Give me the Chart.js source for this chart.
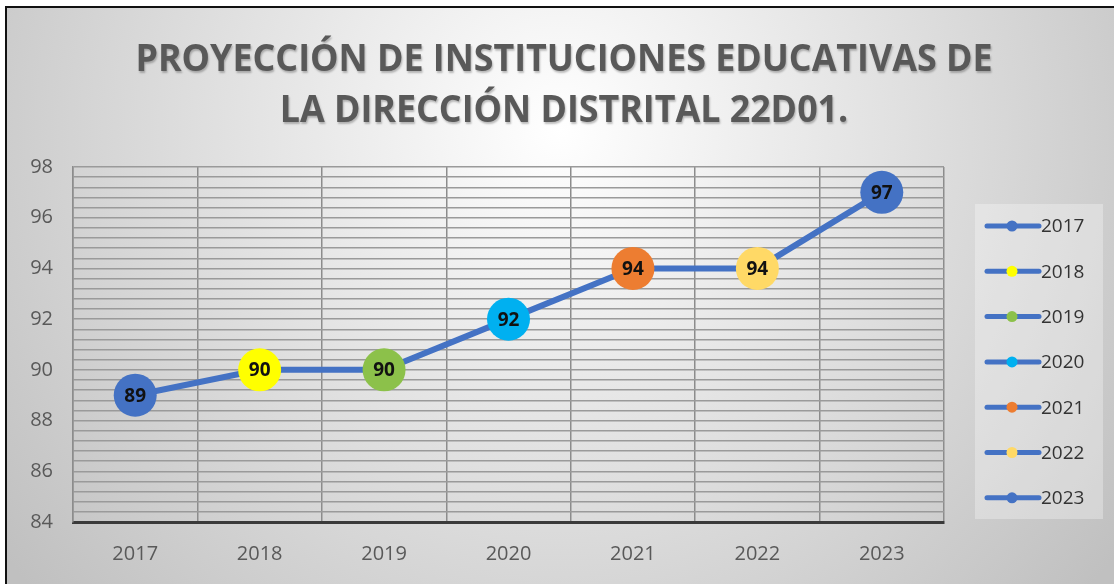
<!DOCTYPE html>
<html>
<head>
<meta charset="utf-8">
<script src="https://cdn.jsdelivr.net/npm/chart.js@4.4.1/dist/chart.umd.min.js"></script>
<style>
  html, body { margin: 0; padding: 0; background: #fff; }
  #wrap { width: 1114px; height: 584px; }
</style>
</head>
<body>
<div id="wrap"><canvas id="chart" width="1114" height="584"></canvas></div>
<script>
const titleLines = ['PROYECCIÓN DE INSTITUCIONES EDUCATIVAS DE', 'LA DIRECCIÓN DISTRITAL 22D01.'];
const years = ['2017', '2018', '2019', '2020', '2021', '2022', '2023'];
const instituciones = [89, 90, 90, 92, 94, 94, 97];
const pointColors = ['#4472C4', '#FFFF00', '#8CC14A', '#00B0F0', '#ED7D31', '#FFD966', '#4472C4'];
const yMin = 84;
const yMax = 98;
const yMinorStep = 0.4;

const LINE_BLUE = '#4472C4';
const FONT = '"Open Sans", "DejaVu Sans", sans-serif';

// fondo degradado y marco
const fondo = {
  id: 'fondo',
  beforeDraw(chart) {
    const { ctx, width, height } = chart;
    ctx.save();
    ctx.fillStyle = '#ffffff';
    ctx.fillRect(0, 0, width, height);
    const g = ctx.createRadialGradient(560, 130, 0, 560, 130, 700);
    g.addColorStop(0, '#ffffff');
    g.addColorStop(1, '#c0c0c0');
    ctx.fillStyle = g;
    ctx.fillRect(7, 8, width, height);
    ctx.strokeStyle = '#111';
    ctx.lineWidth = 2;
    ctx.beginPath();
    ctx.moveTo(6, height);
    ctx.lineTo(6, 7);
    ctx.lineTo(width, 7);
    ctx.stroke();
    ctx.restore();
  }
};

// titulo en dos lineas, comprimido a lo ancho
const titulo = {
  id: 'titulo',
  afterDraw(chart) {
    const ctx = chart.ctx;
    ctx.save();
    ctx.font = 'bold 37px ' + FONT;
    ctx.fillStyle = '#595959';
    ctx.textBaseline = 'alphabetic';
    ctx.textAlign = 'center';
    ctx.shadowColor = 'rgba(0,0,0,0.25)';
    ctx.shadowBlur = 2;
    ctx.shadowOffsetX = 1;
    ctx.shadowOffsetY = 2;
    const sx = 857 / ctx.measureText(titleLines[0]).width;
    const cx = 564;
    [71, 122].forEach((base, i) => {
      ctx.save();
      ctx.translate(cx, base);
      ctx.scale(sx, 1);
      ctx.fillText(titleLines[i], 0, 0);
      ctx.restore();
    });
    ctx.restore();
  }
};

// etiquetas de valor dentro de cada punto
const etiquetas = {
  id: 'etiquetas',
  afterDatasetsDraw(chart) {
    const ctx = chart.ctx;
    const meta = chart.getDatasetMeta(0);
    ctx.save();
    ctx.font = 'bold 19px ' + FONT;
    ctx.fillStyle = '#111';
    ctx.textAlign = 'center';
    ctx.textBaseline = 'middle';
    meta.data.forEach((pt, i) => {
      ctx.fillText(String(instituciones[i]), pt.x, pt.y + 1);
    });
    ctx.restore();
  }
};

// leyenda lateral: una entrada por año
const leyenda = {
  id: 'leyenda',
  afterDraw(chart) {
    const ctx = chart.ctx;
    ctx.save();
    ctx.fillStyle = 'rgba(255,255,255,0.3)';
    ctx.fillRect(975, 204, 128, 315);
    years.forEach((y, i) => {
      const cy = 226 + i * 45.3;
      ctx.strokeStyle = LINE_BLUE;
      ctx.lineWidth = 5;
      ctx.lineCap = 'round';
      ctx.beginPath();
      ctx.moveTo(987, cy);
      ctx.lineTo(1039, cy);
      ctx.stroke();
      ctx.fillStyle = pointColors[i];
      ctx.beginPath();
      ctx.arc(1012, cy, 5.5, 0, Math.PI * 2);
      ctx.fill();
      ctx.fillStyle = '#333';
      ctx.font = '19px ' + FONT;
      ctx.textAlign = 'left';
      ctx.textBaseline = 'middle';
      ctx.fillText(y, 1041, cy + 1);
    });
    ctx.restore();
  }
};

new Chart(document.getElementById('chart'), {
  type: 'line',
  data: {
    labels: years,
    datasets: [{
      label: 'Instituciones',
      data: instituciones,
      borderColor: LINE_BLUE,
      borderWidth: 6,
      pointRadius: 21.5,
      pointHoverRadius: 21.5,
      pointBorderWidth: 0,
      pointBackgroundColor: pointColors,
      pointBorderColor: pointColors,
      tension: 0
    }]
  },
  options: {
    responsive: false,
    animation: false,
    events: [],
    layout: { padding: { top: 167, right: 170, left: 0, bottom: 0 } },
    plugins: {
      legend: { display: false },
      title: { display: false },
      tooltip: { enabled: false }
    },
    scales: {
      x: {
        offset: true,
        grid: { offset: true, color: '#8c8c8c', lineWidth: 1.5, drawTicks: false },
        border: { color: '#3a3a3a', width: 3 },
        ticks: { color: '#595959', font: { family: FONT, size: 20 }, padding: 20 },
        afterFit(scale) { scale.height = 62; }
      },
      y: {
        min: yMin,
        max: yMax,
        grid: { color: '#9a9a9a', lineWidth: 1.5, drawTicks: false },
        border: { color: '#8c8c8c', width: 1.5 },
        ticks: {
          stepSize: yMinorStep,
          autoSkip: false,
          color: '#595959',
          font: { family: FONT, size: 20 },
          padding: 20,
          callback(v) {
            const r = Math.round(v);
            return (Math.abs(v - r) < 1e-6 && r % 2 === 0) ? String(r) : '';
          }
        },
        afterFit(scale) { scale.width = 73; }
      }
    }
  },
  plugins: [fondo, titulo, etiquetas, leyenda]
});
</script>
</body>
</html>
